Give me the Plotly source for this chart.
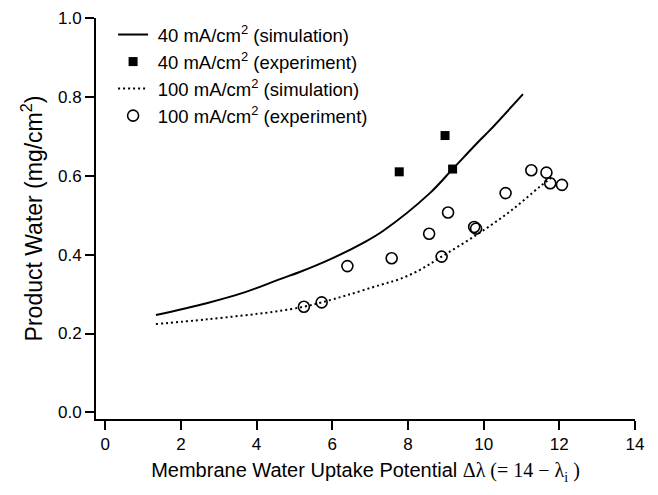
import plotly.graph_objects as go

# 40 mA/cm2 simulation (solid)
sim40_x = [1.34, 2.68, 3.70, 4.62, 5.14, 5.94, 6.82, 7.34, 8.58, 9.19, 9.90, 10.16, 11.04]
sim40_y = [0.247, 0.277, 0.305, 0.338, 0.356, 0.388, 0.430, 0.460, 0.556, 0.618, 0.690, 0.715, 0.807]

# 40 mA/cm2 experiment (squares)
exp40_x = [7.77, 8.98, 9.18]
exp40_y = [0.610, 0.702, 0.617]

# 100 mA/cm2 simulation (dotted)
sim100_x = [1.34, 2.68, 4.44, 5.25, 5.72, 6.38, 7.26, 7.78, 8.31, 8.89, 9.81, 10.69, 11.48, 11.83]
sim100_y = [0.224, 0.236, 0.255, 0.268, 0.279, 0.297, 0.323, 0.338, 0.361, 0.395, 0.450, 0.509, 0.572, 0.598]

# 100 mA/cm2 experiment (open circles)
exp100_x = [5.25, 5.72, 6.40, 7.57, 8.56, 8.89, 9.06, 9.75, 9.80, 10.58, 11.26, 11.66, 11.76, 12.07]
exp100_y = [0.268, 0.279, 0.371, 0.391, 0.453, 0.395, 0.507, 0.470, 0.466, 0.556, 0.614, 0.608, 0.581, 0.577]

x_ticks = [0, 2, 4, 6, 8, 10, 12, 14]
y_ticks = [0.0, 0.2, 0.4, 0.6, 0.8, 1.0]

FONT = "Liberation Sans, Arial, sans-serif"
SP = "\u2005"

fig = go.Figure()
fig.add_trace(go.Scatter(x=sim40_x, y=sim40_y, mode="lines", line=dict(color="black", width=2, shape="spline"),
                         name=SP + "40 mA/cm<sup>2</sup> (simulation)", legendgroup="a"))
fig.add_trace(go.Scatter(x=exp40_x, y=exp40_y, mode="markers", marker=dict(symbol="square", size=9, color="black"),
                         name=SP + "40 mA/cm<sup>2</sup> (experiment)", legendgroup="b"))
fig.add_trace(go.Scatter(x=sim100_x, y=sim100_y, mode="lines",
                         line=dict(color="black", width=2, dash="2px,3px", shape="spline"),
                         name=SP + "100 mA/cm<sup>2</sup> (simulation)", legendgroup="c"))
fig.add_trace(go.Scatter(x=exp100_x, y=exp100_y, mode="markers",
                         marker=dict(symbol="circle-open", size=11, color="black", line=dict(width=1.6, color="black")),
                         name=SP + "100 mA/cm<sup>2</sup> (experiment)", legendgroup="d"))

axis_common = dict(showline=True, linecolor="black", linewidth=2, ticks="outside", ticklen=9, tickwidth=2,
                   tickcolor="black", showgrid=False, zeroline=False, automargin=False,
                   tickfont=dict(family=FONT, size=17, color="black"))

fig.update_layout(
    width=658, height=495,
    margin=dict(l=96, r=23, t=18, b=76),
    paper_bgcolor="white", plot_bgcolor="white",
    font=dict(family=FONT, color="black"),
    showlegend=True,
    legend=dict(x=0.0317, y=1.005, xanchor="left", yanchor="top", bgcolor="rgba(0,0,0,0)",
                font=dict(family=FONT, size=18.5, color="black"), tracegroupgap=1, traceorder="normal"),
    xaxis=dict(range=[-0.243, 14], tickvals=x_ticks, ticktext=[str(v) for v in x_ticks],
               title=dict(text="Membrane Water Uptake Potential <span style=\"font-family:'Liberation Serif', serif\">Δλ (= 14 − λ<sub>i</sub> )</span>",
                          font=dict(family=FONT, size=20, color="black"), standoff=10),
               **axis_common),
    yaxis=dict(range=[-0.0167, 1.0], tickvals=y_ticks, ticktext=[f"{v:.1f}" for v in y_ticks],
               title=dict(text="Product Water (mg/cm<sup>2</sup>)", font=dict(family=FONT, size=23, color="black"), standoff=9),
               **axis_common),
)

fig.write_html("out.html")
